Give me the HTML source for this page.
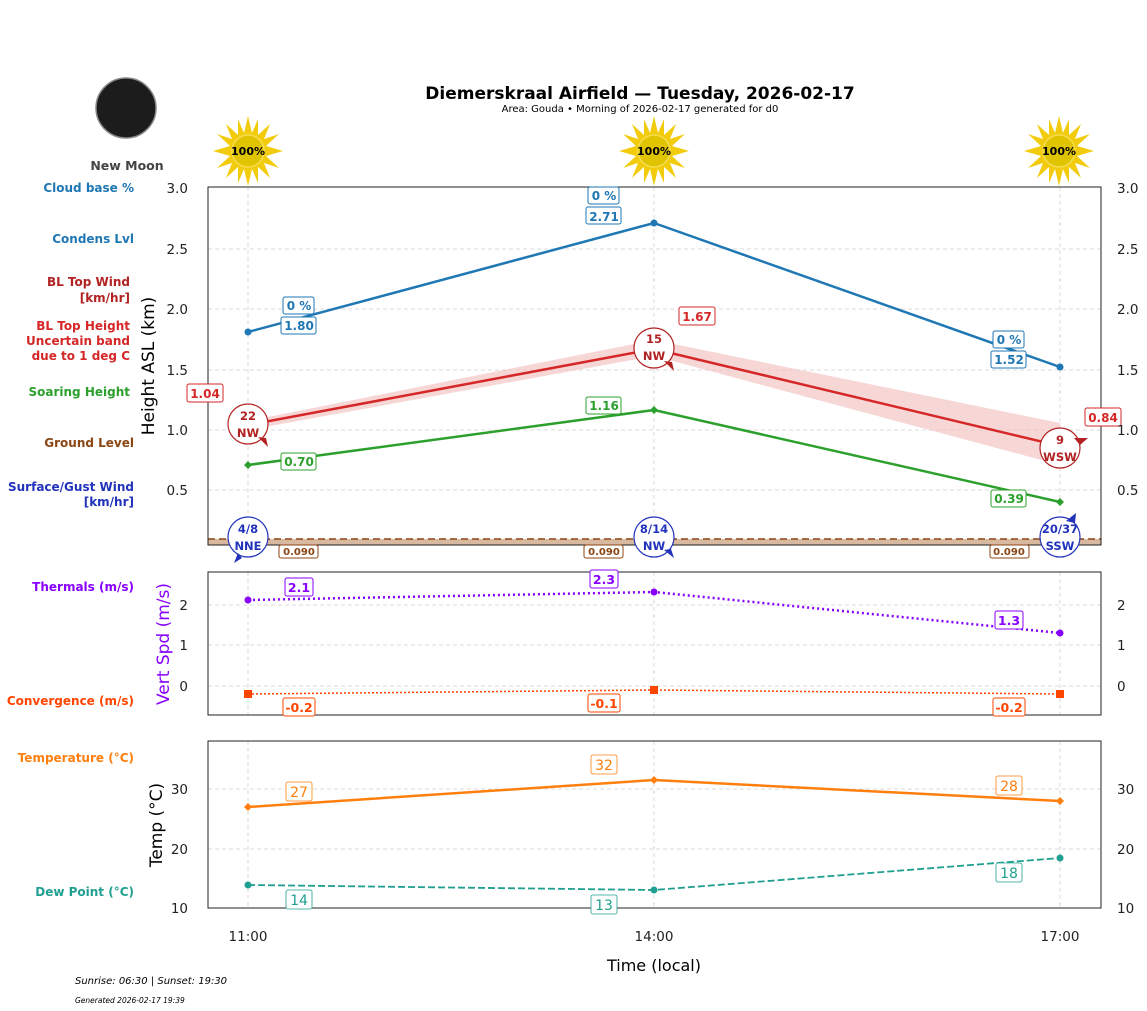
<!DOCTYPE html>
<html><head><meta charset="utf-8"><style>
body{margin:0;background:#fff;}
svg{display:block;font-family:"DejaVu Sans","Liberation Sans",sans-serif;}
</style></head><body>
<svg width="1147" height="1011" viewBox="0 0 1147 1011" xmlns="http://www.w3.org/2000/svg">
<defs>
<g id="sun">
<polygon fill="#f2cc0c" points="0,-35 4,-18 10,-32 10,-16 22,-27 16,-12 31,-17 18,-5 35,0 18,5 31,17 16,12 22,27 10,16 10,32 4,18 0,35 -4,18 -10,32 -10,16 -22,27 -16,12 -31,17 -18,5 -35,0 -18,-5 -31,-17 -16,-12 -22,-27 -10,-16 -10,-32 -4,-18"/>
<circle r="16" fill="#e0c400" stroke="#f5dc50" stroke-width="1.5"/>
<text y="4" text-anchor="middle" font-size="11" font-weight="bold">100%</text>
</g>
</defs>
<text x="640" y="99" text-anchor="middle" font-size="17" font-weight="bold">Diemerskraal Airfield — Tuesday, 2026-02-17</text>
<text x="640" y="112" text-anchor="middle" font-size="10">Area: Gouda • Morning of 2026-02-17 generated for d0</text>
<circle cx="126" cy="108" r="30" fill="#1c1c1c" stroke="#888" stroke-width="1.5"/>
<text x="127" y="170" text-anchor="middle" font-size="12.5" font-weight="bold" fill="#444">New Moon</text>
<use href="#sun" x="248" y="151"/><use href="#sun" x="654" y="151"/><use href="#sun" x="1059" y="151"/>

<g font-size="12" font-weight="bold" text-anchor="end">
<text x="134" y="192" fill="#1f77b4">Cloud base %</text>
<text x="134" y="243" fill="#1f77b4">Condens Lvl</text>
<text x="130" y="286" fill="#b22222">BL Top Wind</text>
<text x="130" y="302" fill="#b22222">[km/hr]</text>
<text x="130" y="330" fill="#d62728">BL Top Height</text>
<text x="130" y="345" fill="#d62728">Uncertain band</text>
<text x="130" y="360" fill="#d62728">due to 1 deg C</text>
<text x="130" y="396" fill="#2ca02c">Soaring Height</text>
<text x="134" y="447" fill="#8b4513">Ground Level</text>
<text x="134" y="491" fill="#2233bb">Surface/Gust Wind</text>
<text x="134" y="506" fill="#2233bb">[km/hr]</text>
<text x="134" y="591" fill="#8800ff">Thermals (m/s)</text>
<text x="134" y="705" fill="#ff4500">Convergence (m/s)</text>
<text x="134" y="762" fill="#ff7f0e">Temperature (°C)</text>
<text x="134" y="896" fill="#20a090">Dew Point (°C)</text>
</g>

<!-- grid panel1 -->
<g stroke="#d0d0d0" stroke-width="0.8" stroke-dasharray="4,3">
<line x1="208" x2="1101" y1="249" y2="249"/><line x1="208" x2="1101" y1="309" y2="309"/>
<line x1="208" x2="1101" y1="370" y2="370"/><line x1="208" x2="1101" y1="430" y2="430"/>
<line x1="208" x2="1101" y1="490" y2="490"/>
<line x1="248" x2="248" y1="187" y2="545"/><line x1="654" x2="654" y1="187" y2="545"/><line x1="1060" x2="1060" y1="187" y2="545"/>
<line x1="208" x2="1101" y1="605" y2="605"/><line x1="208" x2="1101" y1="645" y2="645"/><line x1="208" x2="1101" y1="686" y2="686"/>
<line x1="248" x2="248" y1="572" y2="715"/><line x1="654" x2="654" y1="572" y2="715"/><line x1="1060" x2="1060" y1="572" y2="715"/>
<line x1="208" x2="1101" y1="789" y2="789"/><line x1="208" x2="1101" y1="849" y2="849"/>
<line x1="248" x2="248" y1="741" y2="908"/><line x1="654" x2="654" y1="741" y2="908"/><line x1="1060" x2="1060" y1="741" y2="908"/>
</g>
<!-- band -->
<polygon fill="#f4c4c4" opacity="0.7" points="248,421 654,340 1060,423 1060,465 654,356 248,430"/>
<!-- ground -->
<rect x="208" y="539" width="893" height="6" fill="#d9b8a0"/>
<line x1="208" x2="1101" y1="539" y2="539" stroke="#8b4513" stroke-width="1.5" stroke-dasharray="7,4"/>
<!-- lines -->
<polyline fill="none" stroke="#1f77b4" stroke-width="2.5" points="248,332 654,223 1060,367"/>
<polyline fill="none" stroke="#d62728" stroke-width="2.5" points="248,425 654,349 1060,446"/>
<polyline fill="none" stroke="#2ca02c" stroke-width="2.5" points="248,465 654,410 1060,502"/>
<g fill="#1f77b4"><circle cx="248" cy="332" r="3.5"/><circle cx="654" cy="223" r="3.5"/><circle cx="1060" cy="367" r="3.5"/></g>
<g fill="#2ca02c"><path d="M248,461 l4,4 -4,4 -4,-4z"/><path d="M654,406 l4,4 -4,4 -4,-4z"/><path d="M1060,498 l4,4 -4,4 -4,-4z"/></g>
<rect x="208" y="187" width="893" height="358" fill="none" stroke="#222" stroke-width="1"/>

<!-- labels panel1 -->
<g font-size="12" font-weight="bold" text-anchor="middle">
<g fill="#fff" stroke="#1f77b4"><rect x="283" y="297" width="31" height="17" rx="2"/><rect x="281" y="317" width="35" height="17" rx="2"/>
<rect x="588" y="187" width="31" height="17" rx="2"/><rect x="586" y="207" width="35" height="17" rx="2"/>
<rect x="993" y="331" width="31" height="17" rx="2"/><rect x="991" y="351" width="35" height="17" rx="2"/></g>
<g fill="#1f77b4"><text x="299" y="310">0 %</text><text x="299" y="330">1.80</text><text x="604" y="200">0 %</text><text x="604" y="221">2.71</text><text x="1009" y="344">0 %</text><text x="1009" y="364">1.52</text></g>
<g fill="#fff" stroke="#d62728"><rect x="187" y="384" width="36" height="18" rx="2"/><rect x="679" y="307" width="36" height="18" rx="2"/><rect x="1085" y="408" width="36" height="18" rx="2"/></g>
<g fill="#d62728"><text x="205" y="398">1.04</text><text x="697" y="321">1.67</text><text x="1103" y="422">0.84</text></g>
<g fill="#fff" stroke="#2ca02c"><rect x="281" y="453" width="35" height="17" rx="2"/><rect x="586" y="397" width="35" height="17" rx="2"/><rect x="991" y="490" width="35" height="17" rx="2"/></g>
<g fill="#2ca02c"><text x="299" y="466">0.70</text><text x="604" y="410">1.16</text><text x="1009" y="503">0.39</text></g>
<g fill="#fff" stroke="#8b4513" font-size="10"><rect x="279" y="545" width="39" height="13" rx="2"/><rect x="584" y="545" width="39" height="13" rx="2"/><rect x="990" y="545" width="39" height="13" rx="2"/></g>
<g fill="#8b4513" font-size="10"><text x="299" y="555">0.090</text><text x="604" y="555">0.090</text><text x="1009" y="555">0.090</text></g>
</g>
<!-- wind circles -->
<g font-size="11.5" font-weight="bold" text-anchor="middle">
<g stroke="#b22222" fill="#fff" stroke-width="1.2"><circle cx="248" cy="424" r="20"/><circle cx="654" cy="348" r="20"/><circle cx="1060" cy="448" r="20"/></g>
<g fill="#b22222"><text x="248" y="420">22</text><text x="248" y="437">NW</text><text x="654" y="343">15</text><text x="654" y="360">NW</text><text x="1060" y="444">9</text><text x="1060" y="461">WSW</text>
<path d="M258,437 l10,10 -2,-9z"/><path d="M664,361 l10,10 -2,-9z"/><path d="M1074,438 l14,0 -8,7z"/></g>
<g stroke="#2233bb" fill="#fff" stroke-width="1.2"><circle cx="248" cy="537" r="20"/><circle cx="654" cy="537" r="20"/><circle cx="1060" cy="537" r="20"/></g>
<g fill="#2233bb"><text x="248" y="533">4/8</text><text x="248" y="550">NNE</text><text x="654" y="533">8/14</text><text x="654" y="550">NW</text><text x="1060" y="533">20/37</text><text x="1060" y="550">SSW</text>
<path d="M238,553 l-4,10 8,-5z"/><path d="M664,550 l10,8 -3,-9z"/><path d="M1066,521 l10,-8 -1,10z"/></g>
</g>
<!-- axes ticks panel1 -->
<g font-size="13.5" fill="#222">
<g text-anchor="end"><text x="188" y="193">3.0</text><text x="188" y="254">2.5</text><text x="188" y="314">2.0</text><text x="188" y="375">1.5</text><text x="188" y="435">1.0</text><text x="188" y="495">0.5</text>
<text x="188" y="610">2</text><text x="188" y="650">1</text><text x="188" y="691">0</text>
<text x="188" y="794">30</text><text x="188" y="854">20</text><text x="188" y="913">10</text></g>
<text x="1117" y="193">3.0</text><text x="1117" y="254">2.5</text><text x="1117" y="314">2.0</text><text x="1117" y="375">1.5</text><text x="1117" y="435">1.0</text><text x="1117" y="495">0.5</text>
<text x="1117" y="610">2</text><text x="1117" y="650">1</text><text x="1117" y="691">0</text>
<text x="1117" y="794">30</text><text x="1117" y="854">20</text><text x="1117" y="913">10</text>
<g text-anchor="middle"><text x="248" y="941">11:00</text><text x="654" y="941">14:00</text><text x="1060" y="941">17:00</text></g>
</g>
<text transform="translate(154,366) rotate(-90)" text-anchor="middle" font-size="17">Height ASL (km)</text>
<text transform="translate(169,644) rotate(-90)" text-anchor="middle" font-size="17" fill="#8800ff">Vert Spd (m/s)</text>
<text transform="translate(162,825) rotate(-90)" text-anchor="middle" font-size="17">Temp (°C)</text>
<text x="654" y="971" text-anchor="middle" font-size="16">Time (local)</text>

<!-- panel2 -->
<polyline fill="none" stroke="#8800ff" stroke-width="2.5" stroke-dasharray="2,3" points="248,600 654,592 1060,633"/>
<polyline fill="none" stroke="#ff4500" stroke-width="1.5" stroke-dasharray="2,2" points="248,694 654,690 1060,694"/>
<g fill="#8800ff"><circle cx="248" cy="600" r="3.5"/><circle cx="654" cy="592" r="3.5"/><circle cx="1060" cy="633" r="3.5"/></g>
<g fill="#ff4500"><rect x="244" y="690" width="8" height="8"/><rect x="650" y="686" width="8" height="8"/><rect x="1056" y="690" width="8" height="8"/></g>
<rect x="208" y="572" width="893" height="143" fill="none" stroke="#222"/>
<g font-size="12.5" font-weight="bold" text-anchor="middle">
<g fill="#fff" stroke="#8800ff"><rect x="285" y="578" width="28" height="18" rx="2"/><rect x="590" y="570" width="28" height="18" rx="2"/><rect x="995" y="611" width="28" height="18" rx="2"/></g>
<g fill="#8800ff"><text x="299" y="592">2.1</text><text x="604" y="584">2.3</text><text x="1009" y="625">1.3</text></g>
<g fill="#fff" stroke="#ff4500"><rect x="283" y="698" width="32" height="18" rx="2"/><rect x="588" y="694" width="32" height="18" rx="2"/><rect x="993" y="698" width="32" height="18" rx="2"/></g>
<g fill="#ff4500"><text x="299" y="712">-0.2</text><text x="604" y="708">-0.1</text><text x="1009" y="712">-0.2</text></g>
</g>

<!-- panel3 -->
<polyline fill="none" stroke="#ff7f0e" stroke-width="2.5" points="248,807 654,780 1060,801"/>
<polyline fill="none" stroke="#20a090" stroke-width="1.8" stroke-dasharray="7,3" points="248,885 654,890 1060,858"/>
<g fill="#ff7f0e"><path d="M248,803 l4,4 -4,4 -4,-4z"/><path d="M654,776 l4,4 -4,4 -4,-4z"/><path d="M1060,797 l4,4 -4,4 -4,-4z"/></g>
<g fill="#20a090"><circle cx="248" cy="885" r="3.5"/><circle cx="654" cy="890" r="3.5"/><circle cx="1060" cy="858" r="3.5"/></g>
<rect x="208" y="741" width="893" height="167" fill="none" stroke="#222"/>
<g font-size="14" text-anchor="middle">
<g fill="#fff" stroke="#ff7f0e" stroke-width="0.8"><rect x="286" y="782" width="26" height="19" rx="2"/><rect x="591" y="755" width="26" height="19" rx="2"/><rect x="996" y="776" width="26" height="19" rx="2"/></g>
<g fill="#ff7f0e"><text x="299" y="797">27</text><text x="604" y="770">32</text><text x="1009" y="791">28</text></g>
<g fill="#fff" stroke="#20a090" stroke-width="0.8"><rect x="286" y="890" width="26" height="19" rx="2"/><rect x="591" y="895" width="26" height="19" rx="2"/><rect x="996" y="863" width="26" height="19" rx="2"/></g>
<g fill="#20a090"><text x="299" y="905">14</text><text x="604" y="910">13</text><text x="1009" y="878">18</text></g>
</g>
<text x="75" y="984" font-size="10" font-style="italic">Sunrise: 06:30 | Sunset: 19:30</text>
<text x="75" y="1003" font-size="7.5" font-style="italic">Generated 2026-02-17 19:39</text>
</svg>
</body></html>
